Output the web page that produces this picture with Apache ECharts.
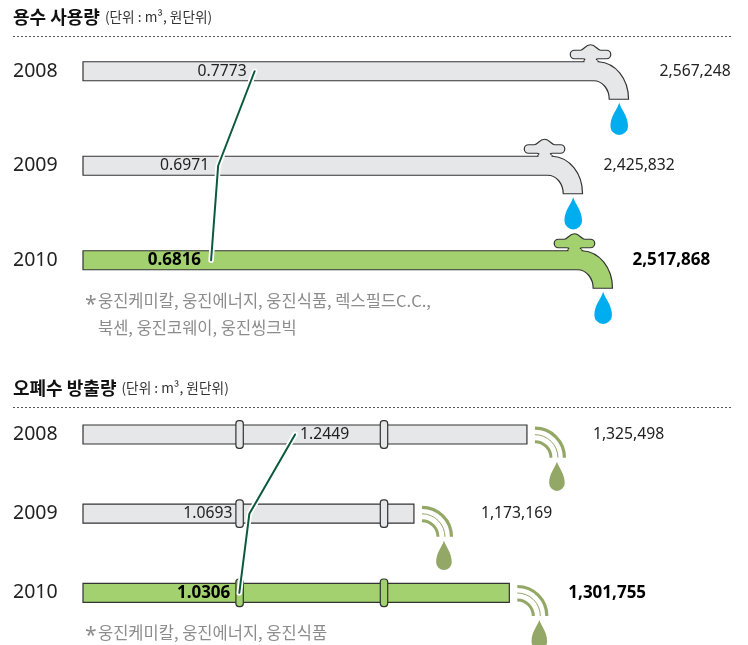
<!DOCTYPE html>
<html>
<head>
<meta charset="utf-8">
<style>
  html, body { margin: 0; background: #fff; }
  #chart { width: 748px; height: 645px; }
</style>
<script src="https://cdn.jsdelivr.net/npm/echarts@6/dist/echarts.min.js"></script>
</head>
<body>
<div id="chart"></div>
<script>
const years = ["2008", "2009", "2010"];
const usageValues = [2567248, 2425832, 2517868];
const usageRates = [0.7773, 0.6971, 0.6816];
const wasteValues = [1325498, 1173169, 1301755];
const wasteRates = [1.2449, 1.0693, 1.0306];
const usageNotes = ["웅진케미칼, 웅진에너지, 웅진식품, 렉스필드C.C.,", "북센, 웅진코웨이, 웅진씽크빅"];
const wasteNotes = ["웅진케미칼, 웅진에너지, 웅진식품"];

// label placement, px from the mark
const usageValueGap = [31, 21, 20];
const wasteValueGap = [66, 67, 59];
const usageRateGap = [-8, -9, -10];
const wasteRateGap = [5, -17, -9];

const GRAY = "#e6e7e8";
const GREEN = "#a3d16f";
const STROKE = "#333";
const BLUE = "#00aeef";
const OLIVE = "#93a866";
const TREND = "#0b5a3c";
const KR = '"Noto Sans CJK KR"';
const NUM = '"Noto Sans", "Noto Sans CJK KR"';

const USAGE_MIN = 890000, USAGE_MAX = 2890000;
const WASTE_MIN = 727000, WASTE_MAX = 1527000;

function valueLabel(x, y, i, value) {
    const last = i === years.length - 1;
    return {
        type: "text",
        style: {
            x: x, y: y, text: value.toLocaleString("en-US"),
            fill: last ? "#000" : "#222",
            font: (last ? "bold 17px " : "15.7px ") + NUM,
            align: "left", verticalAlign: "middle"
        }
    };
}

function renderFaucet(params, api) {
    const i = api.value(1);
    const end = api.coord([api.value(0), i]);
    const X = end[0], cy = end[1];
    const L = api.coord([USAGE_MIN, i])[0];
    const top = cy - 9.5, bot = cy + 9.5;
    const fill = i === years.length - 1 ? GREEN : GRAY;
    const handle = `M${X - 45} ${top} C${X - 43} ${top - 3} ${X - 43} ${cy - 12.5} ${X - 46} ${cy - 12.5}`
        + ` H${X - 54} A4.2 4.2 0 0 1 ${X - 54} ${cy - 21} H${X - 48}`
        + ` C${X - 45} ${cy - 21} ${X - 43} ${cy - 26.5} ${X - 38} ${cy - 26.5}`
        + ` C${X - 33} ${cy - 26.5} ${X - 31} ${cy - 21} ${X - 28} ${cy - 21}`
        + ` H${X - 22} A4.2 4.2 0 0 1 ${X - 22} ${cy - 12.5} H${X - 30}`
        + ` C${X - 33} ${cy - 12.5} ${X - 33} ${top - 3} ${X - 30} ${top} Z`;
    const pipe = `M${L} ${top} H${X - 30} C${X - 13} ${top + 1} ${X} ${top + 17} ${X} ${cy + 28}`
        + ` H${X - 19.3} C${X - 19.3} ${cy + 18} ${X - 26} ${bot} ${X - 35} ${bot} H${L} Z`;
    const dx = X - 9.3, dy = cy + 31.4;
    const drop = `M${dx} ${dy} C${dx + 2} ${dy + 7} ${dx + 8.8} ${dy + 13} ${dx + 8.8} ${dy + 23.5}`
        + ` A8.8 8.8 0 1 1 ${dx - 8.8} ${dy + 23.5} C${dx - 8.8} ${dy + 13} ${dx - 2} ${dy + 7} ${dx} ${dy} Z`;
    return {
        type: "group",
        children: [
            { type: "path", shape: { pathData: handle }, style: { fill: fill, stroke: STROKE, lineWidth: 1.2 } },
            { type: "path", shape: { pathData: pipe }, style: { fill: fill, stroke: STROKE, lineWidth: 1.2 } },
            // stem runs into the pipe, no line across the join
            { type: "rect", shape: { x: X - 44, y: top - 1.5, width: 13, height: 3 }, style: { fill: fill } },
            { type: "path", shape: { pathData: drop }, style: { fill: BLUE } },
            valueLabel(X + usageValueGap[i], cy, i, api.value(0))
        ]
    };
}

function renderDrain(params, api) {
    const i = api.value(1);
    const end = api.coord([api.value(0), i]);
    const X = end[0], cy = end[1];
    const L = api.coord([WASTE_MIN, i])[0];
    const fill = i === years.length - 1 ? GREEN : GRAY;
    const clamp = (x) => ({
        type: "rect",
        shape: { x: x - 3.7, y: cy - 13.8, width: 7.4, height: 27.6, r: 3 },
        style: { fill: fill, stroke: STROKE, lineWidth: 1.2 }
    });
    const arc = (r, w) => ({
        type: "arc",
        shape: { cx: X + 8, cy: cy + 23.2, r: r, startAngle: -Math.PI / 2, endAngle: 0 },
        style: { fill: "none", stroke: OLIVE, lineWidth: w }
    });
    const dx = X + 30, dy = cy + 27.2;
    const drop = `M${dx} ${dy} C${dx + 2} ${dy + 6} ${dx + 7.8} ${dy + 12} ${dx + 7.8} ${dy + 21.4}`
        + ` A7.8 7.8 0 1 1 ${dx - 7.8} ${dy + 21.4} C${dx - 7.8} ${dy + 12} ${dx - 2} ${dy + 6} ${dx} ${dy} Z`;
    return {
        type: "group",
        children: [
            { type: "rect", shape: { x: L, y: cy - 9.5, width: X - L, height: 19 }, style: { fill: fill, stroke: STROKE, lineWidth: 1.2 } },
            clamp(L + 156.6),
            clamp(L + 301),
            arc(29.5, 3.2),
            arc(23, 1),
            arc(16, 3),
            { type: "path", shape: { pathData: drop }, style: { fill: OLIVE } },
            valueLabel(X + wasteValueGap[i], cy, i, api.value(0))
        ]
    };
}

function renderRateLabel(gaps) {
    return (params, api) => {
        const i = api.value(1);
        const pt = api.coord([api.value(0), i]);
        const last = i === years.length - 1;
        return {
            type: "text",
            style: {
                x: pt[0] + gaps[i], y: pt[1],
                text: api.value(0).toFixed(4),
                fill: last ? "#000" : "#222",
                font: (last ? "bold 17px " : "15.7px ") + NUM,
                align: gaps[i] < 0 ? "right" : "left",
                verticalAlign: "middle"
            }
        };
    };
}

// one block: pipes on one x axis, the rate trend on a second x axis of the same grid
function trendSeries(rates, xIdx, yIdx) {
    const data = rates.map((v, i) => [v, i]);
    const base = {
        type: "line", data: data, xAxisIndex: xIdx, yAxisIndex: yIdx,
        symbol: "none", clip: false, silent: true
    };
    return [
        Object.assign({}, base, { z: 3, lineStyle: { color: "#fff", width: 5.5, cap: "round", join: "round" } }),
        Object.assign({}, base, { z: 4, lineStyle: { color: TREND, width: 2, cap: "round", join: "round" } }),
        {
            type: "custom", data: data, xAxisIndex: xIdx, yAxisIndex: yIdx, z: 5,
            encode: { x: 0, y: 1 }, renderItem: renderRateLabel(xIdx === 1 ? usageRateGap : wasteRateGap)
        }
    ];
}

const yAxisBase = {
    type: "category", data: years, inverse: true,
    axisLine: { show: false }, axisTick: { show: false }, splitLine: { show: false },
    axisLabel: { align: "left", margin: 70, fontSize: 19.5, color: "#222", fontFamily: NUM, padding: [2, 0, 0, 0] }
};
const hiddenX = { type: "value", show: false, splitLine: { show: false } };

function titleOf(main, top) {
    return {
        text: "{a|" + main + "} {b|(단위 : m³, 원단위)}",
        left: 13, top: top, padding: 0,
        textStyle: {
            fontWeight: "normal",
            rich: {
                a: { fontFamily: KR, fontWeight: "bold", fontSize: 18, color: "#111" },
                b: { fontFamily: KR, fontWeight: "normal", fontSize: 13.7, color: "#333" }
            }
        }
    };
}

function noteGraphics(lines, firstY, step) {
    const els = [{
        type: "text", left: 85, top: firstY - 9,
        style: { text: "*", font: "21px " + NUM, fill: "#8c8c8c" }
    }];
    lines.forEach((t, k) => els.push({
        type: "text", left: 98, top: firstY - 11 + k * step,
        style: { text: t, font: "16.5px " + KR, fill: "#8c8c8c" }
    }));
    return els;
}

function ruleGraphic(y) {
    return {
        type: "line", shape: { x1: 13, y1: y, x2: 731, y2: y },
        style: { stroke: "#555", lineWidth: 1, lineDash: [2, 2] }
    };
}

const chart = echarts.init(document.getElementById("chart"));
chart.setOption({
    animation: false,
    backgroundColor: "#fff",
    title: [titleOf("용수 사용량", 8), titleOf("오폐수 방출량", 379)],
    grid: [
        { left: 83, top: 24, width: 650.5, height: 283.5 },
        { left: 83, top: 394.9, width: 593.4, height: 237.5 }
    ],
    xAxis: [
        Object.assign({}, hiddenX, { gridIndex: 0, min: USAGE_MIN, max: USAGE_MAX }),
        Object.assign({}, hiddenX, { gridIndex: 0, min: 0.4, max: 1.83 }),
        Object.assign({}, hiddenX, { gridIndex: 1, min: WASTE_MIN, max: WASTE_MAX }),
        Object.assign({}, hiddenX, { gridIndex: 1, min: 0.43, max: 2.71 })
    ],
    yAxis: [
        Object.assign({}, yAxisBase, { gridIndex: 0 }),
        Object.assign({}, yAxisBase, { gridIndex: 1 })
    ],
    graphic: [
        ruleGraphic(36.5),
        ruleGraphic(407.5),
        ...noteGraphics(usageNotes, 303.5, 27),
        ...noteGraphics(wasteNotes, 635, 27)
    ],
    series: [
        {
            type: "custom", data: usageValues.map((v, i) => [v, i]), xAxisIndex: 0, yAxisIndex: 0,
            z: 2, encode: { x: 0, y: 1 }, renderItem: renderFaucet
        },
        {
            type: "custom", data: wasteValues.map((v, i) => [v, i]), xAxisIndex: 2, yAxisIndex: 1,
            z: 2, encode: { x: 0, y: 1 }, renderItem: renderDrain
        },
        ...trendSeries(usageRates, 1, 0),
        ...trendSeries(wasteRates, 3, 1)
    ]
});
</script>
</body>
</html>
